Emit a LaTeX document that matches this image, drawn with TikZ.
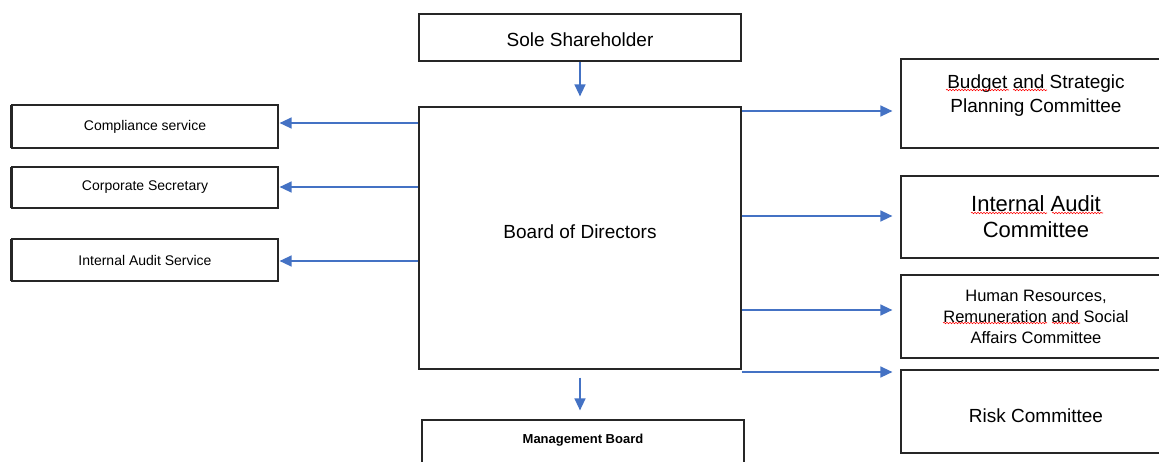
\documentclass[tikz,border=0pt]{standalone}
\usepackage{fontspec}
\setmainfont{Liberation Sans}
\usetikzlibrary{arrows.meta,decorations.pathmorphing}
\definecolor{arrowblue}{HTML}{4472C4}
\definecolor{edgegray}{HTML}{262626}
\begin{document}
\begin{tikzpicture}[x=1pt,y=-1pt,
  box/.style={draw=edgegray,line width=1.2pt,fill=white,inner sep=0pt},
  leftbox/.style={box,minimum width=266pt,font=\fontsize{14}{17}\selectfont},
  rightbox/.style={box,minimum width=270pt},
  midbox/.style={box,minimum width=322pt},
  txt/.style={inner sep=0pt,align=center},
  arr/.style={draw=arrowblue,line width=1.4pt,-{Triangle[length=12pt,width=11pt]}},
  squig/.style={draw=red,line width=0.6pt,decorate,
    decoration={snake,segment length=3pt,amplitude=0.7pt}}]
\useasboundingbox (0,0) rectangle (1159,461);
\clip (0,0) rectangle (1159,461);

% central column
\node[midbox,minimum height=47pt,
  label={[txt,yshift=-2pt,font=\fontsize{19}{23}\selectfont]center:Sole Shareholder}] (sole) at (580,37.5) {};
\node[midbox,minimum height=262pt,
  label={[txt,yshift=6.5pt,font=\fontsize{19}{23}\selectfont]center:Board of Directors}] (board) at (580,238) {};
\node[midbox,minimum height=52pt,
  label={[txt,yshift=5.5pt,font=\fontsize{13}{16}\selectfont\bfseries]center:Management Board}] (mgmt) at (583,446) {};

% services on the left
\node[leftbox,minimum height=43pt] (comp) at (145,126.5) {\raisebox{1pt}{Compliance service}};
\node[leftbox,minimum height=41pt] (corp) at (145,187.5) {Corporate Secretary};
\node[leftbox,minimum height=42pt] (ias) at (145,260) {Internal Audit Service};
\foreach \n in {comp,corp,ias}
  \draw[edgegray,line width=2.2pt] ([yshift=-1pt]\n.north west) -- ([yshift=1pt]\n.south west);

% committees on the right
\node[rightbox,minimum height=89pt] (budget) at (1036,103.5) {};
\node[txt,font=\fontsize{19}{24}\selectfont] (budget-t) at (1036,96) {Budget and Strategic\\Planning Committee};
\node[rightbox,minimum height=82pt,font=\fontsize{22}{26}\selectfont,align=center] (audit) at (1036,217) {Internal Audit\\Committee};
\node[rightbox,minimum height=83pt,font=\fontsize{16.5}{21}\selectfont,align=center] (hr) at (1036,316.5) {Human Resources,\\Remuneration and Social\\Affairs Committee};
\node[rightbox,minimum height=83pt,
  label={[txt,yshift=-4pt,font=\fontsize{19}{23}\selectfont]center:Risk Committee}] (risk) at (1036,411.5) {};

% spell-check marks
\draw[squig] (946,90) -- (1009,90);
\draw[squig] (1013,90) -- (1047,90);
\draw[squig] (971,213) -- (1047,213);
\draw[squig] (1052,213) -- (1103,213);
\draw[squig] (943,323) -- (1047,323);
\draw[squig] (1052,323) -- (1080,323);

% vertical links
\draw[arr,shorten <=0.6pt,shorten >=10pt] (sole.south) -- (board.north);
\draw[arr,shorten <=8pt,shorten >=9pt] (board.south) -- (board.south |- mgmt.north);

% links to the services
\draw[arr,shorten >=1pt] (board.west |- 0,123) -- (comp.east |- 0,123);
\draw[arr,shorten >=1pt] (board.west |- 0,187) -- (corp.east |- 0,187);
\draw[arr,shorten >=1pt] (board.west |- 0,261) -- (ias.east |- 0,261);

% links to the committees
\draw[arr,shorten >=8pt] (board.east |- 0,111) -- (budget.west |- 0,111);
\draw[arr,shorten >=8pt] (board.east |- 0,216) -- (audit.west |- 0,216);
\draw[arr,shorten >=8pt] (board.east |- 0,310) -- (hr.west |- 0,310);
\draw[arr,shorten >=8pt] (board.east |- 0,372) -- (risk.west |- 0,372);
\end{tikzpicture}
\end{document}
